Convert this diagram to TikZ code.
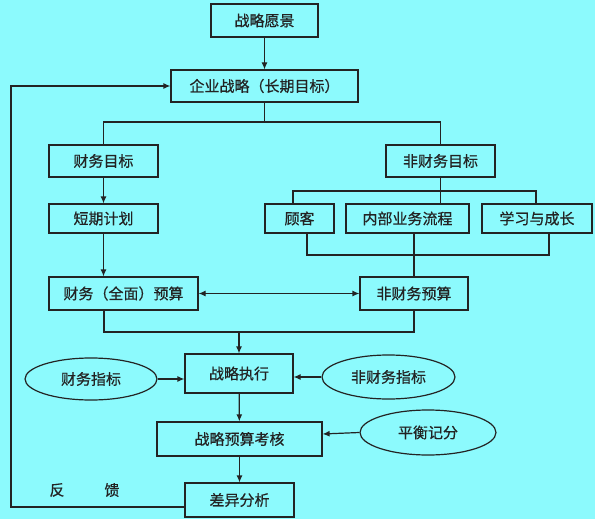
\documentclass[tikz,border=0pt]{standalone}
\usepackage{fontspec}
\setmainfont{Noto Sans CJK SC}[FakeBold=0.6]
\usetikzlibrary{arrows.meta,shapes.geometric}
\definecolor{bgcyan}{RGB}{140,250,253}
\definecolor{ink}{RGB}{35,35,35}
\begin{document}
\begin{tikzpicture}[x=1pt,y=-1pt,
  every node/.style={font=\fontsize{15}{17}\selectfont, text=ink, inner sep=0pt},
  box/.style={draw=ink, line width=1.2pt, rectangle, fill=bgcyan},
  oval/.style={draw=ink, line width=1.2pt, ellipse, fill=bgcyan},
  conn/.style={draw=ink, line width=1.2pt},
  arr/.style={conn, -{Latex[length=7pt,width=6pt]}},
  darr/.style={conn, {Latex[length=7pt,width=6pt]}-{Latex[length=7pt,width=6pt]}}]
\fill[bgcyan] (0,0) rectangle (595,519);
\useasboundingbox (0,0) rectangle (595,519);

\node[box, minimum width=107pt, minimum height=33pt] (vision) at (264.5,20.5) {战略愿景};
\node[box, minimum width=187pt, minimum height=32pt] (corp) at (264.5,86) {企业战略（长期目标）};
\node[box, minimum width=109pt, minimum height=32pt] (fin) at (103.5,161) {财务目标};
\node[box, minimum width=109pt, minimum height=32pt] (nonfin) at (440.5,161) {非财务目标};
\node[box, minimum width=109pt, minimum height=29pt] (short) at (103.5,218.5) {短期计划};
\node[box, minimum width=69pt, minimum height=29pt] (cust) at (299.5,218.5) {顾客};
\node[box, minimum width=123pt, minimum height=29pt] (proc) at (407.5,218.5) {内部业务流程};
\node[box, minimum width=110pt, minimum height=29pt] (learn) at (537,218.5) {学习与成长};
\node[box, minimum width=149pt, minimum height=33pt] (finbud) at (123.5,293.5) {财务（全面）预算};
\node[box, minimum width=108pt, minimum height=33pt] (nonfinbud) at (414,293.5) {非财务预算};
\node[box, minimum width=108pt, minimum height=39pt] (exec) at (239,373.5) {战略执行};
\node[oval, minimum width=132pt, minimum height=42pt] (finind) at (91,379) {财务指标};
\node[oval, minimum width=133pt, minimum height=44pt] (nonfinind) at (388.5,377) {非财务指标};
\node[box, minimum width=165pt, minimum height=34pt] (assess) at (239.5,439) {战略预算考核};
\node[oval, minimum width=136pt, minimum height=45pt] (bsc) at (428,432.5) {平衡记分};
\node[box, minimum width=109pt, minimum height=34pt] (diff) at (239.5,500) {差异分析};
\node (fan) at (57,490) {反};
\node (kui) at (112,490) {馈};

% coordinates
\coordinate (splitA) at (264.5,122);
\coordinate (splitL) at (103.5,122);
\coordinate (splitR) at (440.5,122);
\coordinate (nfA) at (440.5,191);
\coordinate (nfL) at (293,191);
\coordinate (nfR) at (536,191);
\coordinate (cb) at (307,255);
\coordinate (lb) at (549,255);
\coordinate (mergeL) at (104,332);
\coordinate (mergeR) at (414,332);
\coordinate (mergeC) at (239,332);
\coordinate (fbB) at (11,507);
\coordinate (fbT) at (11,86);

\draw[arr] (vision) -- (corp);
\draw[conn] (corp.south) -- (splitA);
\draw[conn] (fin.north) -- (splitL) -- (splitR) -- (nonfin.north);
\draw[arr] (fin) -- (short);
\draw[arr] (short.south) -- (short.south |- finbud.north);
\draw[conn] (nonfin.south) -- (nfA |- proc.north);
\draw[conn] (cust.north -| nfL) -- (nfL) -- (nfR) -- (learn.north -| nfR);
\draw[conn] (cust.south -| cb) -- (cb) -- (lb) -- (learn.south -| lb);
\draw[conn] (proc.south -| nonfinbud.north) -- (nonfinbud.north);
\draw[darr] (finbud.east) -- (nonfinbud.west);
\draw[conn] (finbud.south -| mergeL) -- (mergeL) -- (mergeR) -- (nonfinbud.south -| mergeR);
\draw[arr] (mergeC) -- (exec.north);
\draw[arr] (finind.east) -- (finind.east -| exec.west);
\draw[arr] (nonfinind.west) -- (nonfinind.west -| exec.east);
\draw[arr] (exec) -- (assess);
\draw[arr] (assess) -- (diff);
\draw[arr] (bsc.west) -- ([yshift=5pt]assess.east);
\draw[arr] (diff.west |- fbB) -- (fbB) -- (fbT) -- (corp.west);
\end{tikzpicture}
\end{document}
